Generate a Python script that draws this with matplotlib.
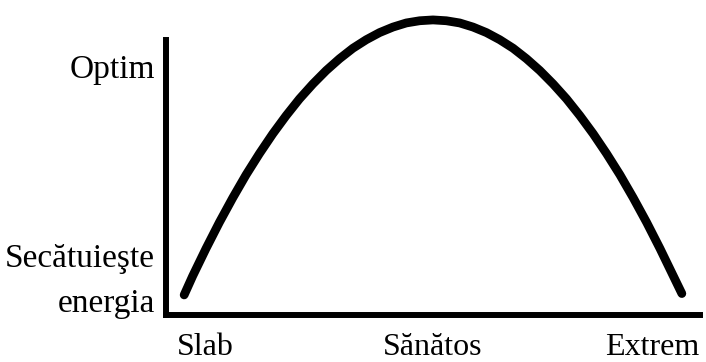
import matplotlib
matplotlib.use("Agg")
import matplotlib.pyplot as plt

# Curve (x: 0-100 along the horizontal axis, y: 0-100 up the vertical axis)
curve_x = [3.4, 5, 7.5, 10, 12.5, 15, 17.5, 20, 22.5, 25, 27.5, 30, 32.5, 35, 37.5, 40,
           42.5, 45, 47.5, 50, 52.5, 55, 57.5, 60, 62.5, 65, 67.5, 70, 72.5, 75, 77.5,
           80, 82.5, 85, 87.5, 90, 92.5, 95, 96.6]
curve_y = [7.3, 14.2, 24.2, 33.7, 42.6, 51.0, 58.7, 65.9, 72.5, 78.6, 84.0, 88.9, 93.2,
           97.0, 100.1, 102.7, 104.7, 106.2, 107.0, 107.3, 107.0, 106.2, 104.7, 102.7,
           100.1, 97.0, 93.2, 88.9, 84.0, 78.6, 72.5, 65.9, 58.7, 51.0, 42.6, 33.7,
           24.2, 14.2, 7.8]

x_labels = ["Slab", "Sănătos", "Extrem"]
x_label_pos = [7.3, 50, 91]
y_labels = ["Optim", "Secătuieşte", "energia"]
y_label_pos = [86.2, 17.5, 1.1]

plt.rcParams['font.family'] = ['Liberation Serif', 'DejaVu Serif']

fig = plt.figure(figsize=(7.06, 3.62), dpi=100)
ax = fig.add_axes([166/706, 47/362, 534/706, 275/362])
ax.set_xlim(0, 100)
ax.set_ylim(0, 100)

ax.plot(curve_x, curve_y, color='black', lw=6.3, solid_capstyle='round',
        solid_joinstyle='round', clip_on=False)

for s in ['top', 'right']:
    ax.spines[s].set_visible(False)
for s in ['left', 'bottom']:
    ax.spines[s].set_linewidth(4.3)
    ax.spines[s].set_color('black')
    ax.spines[s].set_capstyle('projecting')
ax.set_xticks([])
ax.set_yticks([])

for lab, xp in zip(x_labels, x_label_pos):
    ax.text(xp, -14.4, lab, ha='center', va='baseline', fontsize=23, clip_on=False)
for lab, yp in zip(y_labels, y_label_pos):
    ax.text(-2.1, yp, lab, ha='right', va='baseline', fontsize=24, clip_on=False)

fig.savefig("out.png", dpi=100, facecolor='white')
